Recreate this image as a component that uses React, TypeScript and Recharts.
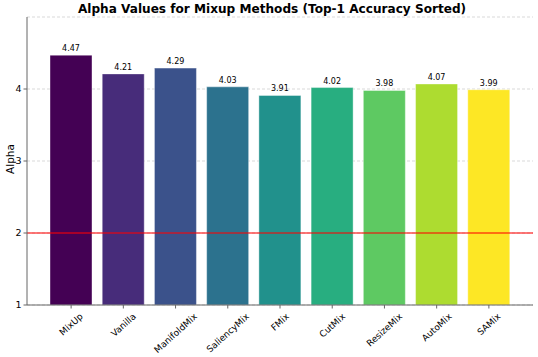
import React from 'react';
import { BarChart, Bar, XAxis, YAxis, CartesianGrid, ReferenceLine, LabelList, Cell, Text } from 'recharts';

const methods = ['MixUp', 'Vanilla', 'ManifoldMix', 'SaliencyMix', 'FMix', 'CutMix', 'ResizeMix', 'AutoMix', 'SAMix'];
const alphas = [4.47, 4.21, 4.29, 4.03, 3.91, 4.02, 3.98, 4.07, 3.99];
const colors = ['#440154', '#472c7a', '#3b528b', '#2c728e', '#21918c', '#28ae80', '#5ec962', '#addc30', '#fde725'];
const yTicks = [1, 2, 3, 4];
const title = 'Alpha Values for Mixup Methods (Top-1 Accuracy Sorted)';
const yLabel = 'Alpha';
const threshold = 2;

const data = methods.map((m, i) => ({ name: m, alpha: alphas[i] }));

const FONT = 'DejaVu Sans';
const AXIS = '#666666';
const ANGLE = 42;

let ctx: CanvasRenderingContext2D | null = null;
const measure = (text: string, font: string) => {
  if (!ctx) ctx = document.createElement('canvas').getContext('2d');
  if (!ctx) return text.length * 5.5;
  ctx.font = font;
  return ctx.measureText(text).width;
};

const XTick = (props: any) => {
  const { x, y, payload } = props;
  const fs = 9;
  const label = String(payload.value);
  const w = measure(label, `${fs}px "${FONT}"`);
  const h = fs * 1.164;
  const rad = (ANGLE * Math.PI) / 180;
  const W = w * Math.cos(rad) + h * Math.sin(rad);
  // right edge of rotated bbox at x + W/2, top edge at y + 2.5
  const ex = x + W / 2 - h * Math.sin(rad) / 2;
  const ey = y + 2.5 + (h * Math.cos(rad)) / 2;
  return (
    <Text
      x={ex}
      y={ey}
      angle={-ANGLE}
      textAnchor="end"
      verticalAnchor="middle"
      fontSize={fs}
      fontFamily={FONT}
      fill="#000"
    >
      {label}
    </Text>
  );
};

const YLabel = (props: any) => {
  const vb = props.viewBox || { x: 0, y: 17, width: 27, height: 288 };
  const x = 9.5;
  const y = vb.y + vb.height / 2 - 2;
  return (
    <text
      x={x}
      y={y}
      transform={`rotate(-90, ${x}, ${y})`}
      textAnchor="middle"
      dominantBaseline="central"
      fontSize={10.5}
      fontFamily={FONT}
      fill="#000"
    >
      {yLabel}
    </text>
  );
};

export default function App() {
  return (
    <div style={{ position: 'absolute', left: 0, top: 0, width: 538, height: 357, background: '#fff' }}>
      <div
        style={{
          position: 'absolute',
          left: 0,
          top: 2,
          width: 544,
          textAlign: 'center',
          fontFamily: FONT,
          fontWeight: 'bold',
          fontSize: 12.1,
          lineHeight: '15px',
          color: '#000',
          whiteSpace: 'nowrap',
        }}
      >
        {title}
      </div>
      <BarChart width={538} height={357} data={data} margin={{ top: 17, right: 5, left: 0, bottom: 0 }}>
        <CartesianGrid vertical={false} stroke="#cfcfcf" strokeDasharray="3 2" strokeWidth={0.8} />
        <XAxis
          dataKey="name"
          type="category"
          height={52}
          padding={{ left: 18, right: 18 }}
          tickSize={3.5}
          tickMargin={0}
          tickLine={{ stroke: AXIS }}
          axisLine={{ stroke: AXIS, strokeWidth: 1 }}
          tick={<XTick />}
          interval={0}
        />
        <XAxis
          xAxisId="top"
          orientation="top"
          dataKey="name"
          height={0}
          tick={false}
          tickLine={false}
          axisLine={{ stroke: AXIS, strokeWidth: 1 }}
        />
        <YAxis
          type="number"
          domain={[1, 5]}
          ticks={yTicks}
          width={27}
          tickSize={3.5}
          tickMargin={2}
          tickLine={{ stroke: AXIS }}
          axisLine={{ stroke: AXIS, strokeWidth: 1 }}
          tick={{ fontSize: 9.5, fontFamily: FONT, fill: '#000' }}
          label={<YLabel />}
          allowDataOverflow
        />
        <YAxis
          yAxisId="right"
          orientation="right"
          type="number"
          domain={[1, 5]}
          width={0}
          tick={false}
          tickLine={false}
          axisLine={{ stroke: AXIS, strokeWidth: 1 }}
        />
        <Bar dataKey="alpha" barSize={42} isAnimationActive={false} stroke="#ffffff" strokeOpacity={0.5} strokeWidth={0.8}>
          {data.map((d, i) => (
            <Cell key={d.name} fill={colors[i]} />
          ))}
          <LabelList
            dataKey="alpha"
            position="top"
            offset={4}
            formatter={(v: any) => Number(v).toFixed(2)}
            style={{ fontSize: 8, fontFamily: FONT, fill: '#000' }}
          />
        </Bar>
        <ReferenceLine y={threshold} stroke="#ff0000" strokeOpacity={0.7} strokeWidth={1.5} />
      </BarChart>
    </div>
  );
}
